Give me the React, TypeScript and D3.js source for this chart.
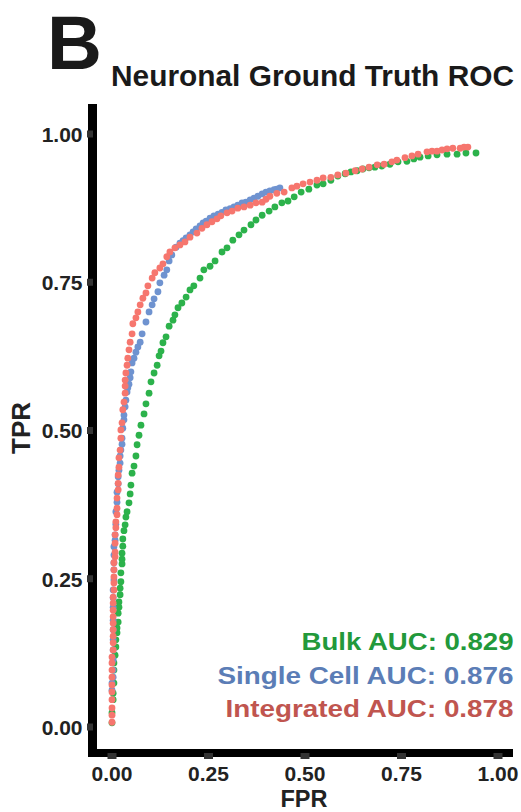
import React from "react";
import * as d3 from "d3";

const bulkFPR = [0,0,0.003,0.003,0.005,0.005,0.005,0.008,0.010,0.010,0.013,0.013,0.016,0.016,0.018,0.018,0.021,0.021,0.023,0.023,0.026,0.026,0.026,0.028,0.028,0.031,0.034,0.036,0.039,0.044,0.047,0.049,0.052,0.057,0.062,0.065,0.070,0.075,0.083,0.088,0.096,0.101,0.109,0.117,0.122,0.127,0.132,0.140,0.148,0.158,0.163,0.171,0.181,0.192,0.202,0.212,0.228,0.238,0.254,0.267,0.285,0.298,0.313,0.329,0.342,0.360,0.373,0.389,0.407,0.422,0.440,0.456,0.472,0.490,0.510,0.531,0.547,0.567,0.585,0.604,0.619,0.635,0.650,0.666,0.681,0.699,0.720,0.741,0.764,0.782,0.798,0.819,0.842,0.868,0.894,0.917,0.943];
const bulkTPR = [0.007,0.024,0.046,0.057,0.074,0.096,0.108,0.121,0.135,0.147,0.159,0.167,0.177,0.192,0.202,0.211,0.223,0.234,0.245,0.260,0.275,0.283,0.293,0.305,0.317,0.331,0.341,0.354,0.363,0.378,0.393,0.408,0.428,0.440,0.457,0.476,0.492,0.509,0.528,0.545,0.563,0.582,0.597,0.610,0.626,0.634,0.648,0.658,0.676,0.686,0.695,0.707,0.715,0.725,0.737,0.744,0.757,0.771,0.777,0.786,0.801,0.808,0.821,0.830,0.838,0.847,0.855,0.863,0.870,0.877,0.884,0.887,0.894,0.902,0.907,0.914,0.916,0.922,0.929,0.933,0.936,0.938,0.941,0.943,0.944,0.946,0.949,0.953,0.954,0.958,0.961,0.963,0.965,0.966,0.966,0.968,0.968];

const singleFPR = [0,0,0.003,0.003,0.003,0.003,0.003,0.003,0.003,0.003,0.003,0.003,0.005,0.005,0.005,0.005,0.005,0.008,0.008,0.010,0.010,0.013,0.013,0.016,0.016,0.018,0.021,0.021,0.023,0.026,0.026,0.028,0.031,0.031,0.034,0.036,0.039,0.041,0.044,0.047,0.049,0.052,0.057,0.062,0.067,0.073,0.078,0.088,0.096,0.104,0.109,0.119,0.124,0.135,0.142,0.148,0.155,0.166,0.176,0.184,0.192,0.202,0.210,0.218,0.228,0.236,0.244,0.254,0.264,0.275,0.285,0.295,0.306,0.316,0.326,0.337,0.347,0.358,0.368,0.378,0.389,0.399,0.409,0.420,0.427,0.435];
const singleTPR = [0.062,0.074,0.084,0.096,0.113,0.130,0.147,0.164,0.180,0.202,0.218,0.231,0.248,0.265,0.277,0.290,0.304,0.315,0.324,0.342,0.363,0.379,0.396,0.410,0.422,0.433,0.445,0.457,0.467,0.477,0.487,0.504,0.518,0.526,0.540,0.551,0.565,0.572,0.578,0.589,0.599,0.614,0.622,0.632,0.641,0.649,0.663,0.683,0.700,0.712,0.722,0.734,0.749,0.762,0.771,0.786,0.796,0.809,0.816,0.820,0.825,0.830,0.835,0.840,0.845,0.850,0.853,0.858,0.862,0.865,0.868,0.872,0.874,0.877,0.880,0.884,0.885,0.889,0.892,0.895,0.899,0.902,0.904,0.906,0.907,0.909];

const integratedFPR = [0,0,0,0,0,0,0,0,0,0,0.003,0.003,0.003,0.003,0.003,0.003,0.003,0.003,0.003,0.005,0.005,0.005,0.005,0.005,0.008,0.008,0.008,0.008,0.010,0.010,0.013,0.013,0.013,0.016,0.016,0.016,0.018,0.018,0.021,0.023,0.023,0.026,0.028,0.031,0.034,0.034,0.034,0.036,0.039,0.041,0.044,0.047,0.052,0.054,0.062,0.067,0.073,0.080,0.088,0.093,0.104,0.111,0.124,0.132,0.142,0.150,0.163,0.176,0.189,0.202,0.220,0.233,0.246,0.259,0.272,0.282,0.298,0.311,0.326,0.342,0.358,0.373,0.389,0.399,0.409,0.427,0.446,0.466,0.479,0.495,0.513,0.531,0.547,0.567,0.585,0.606,0.630,0.648,0.666,0.687,0.705,0.725,0.738,0.759,0.777,0.793,0.816,0.829,0.842,0.855,0.868,0.883,0.902,0.912,0.922];
const integratedTPR = [0.008,0.020,0.032,0.046,0.059,0.071,0.084,0.096,0.108,0.118,0.130,0.142,0.153,0.164,0.175,0.186,0.197,0.209,0.219,0.231,0.243,0.253,0.265,0.277,0.287,0.295,0.310,0.324,0.336,0.346,0.358,0.369,0.386,0.400,0.411,0.425,0.438,0.454,0.467,0.487,0.501,0.513,0.535,0.548,0.563,0.575,0.585,0.597,0.610,0.622,0.636,0.649,0.663,0.680,0.690,0.700,0.712,0.723,0.732,0.744,0.757,0.766,0.774,0.781,0.793,0.801,0.808,0.813,0.818,0.826,0.833,0.841,0.847,0.852,0.857,0.862,0.867,0.870,0.875,0.877,0.880,0.884,0.885,0.890,0.895,0.900,0.902,0.909,0.912,0.916,0.919,0.922,0.926,0.927,0.931,0.934,0.938,0.941,0.944,0.948,0.949,0.953,0.956,0.960,0.963,0.966,0.970,0.971,0.971,0.973,0.975,0.976,0.976,0.978,0.978];

const tickValues = [0, 0.25, 0.5, 0.75, 1];
const tickLabels = ["0.00", "0.25", "0.50", "0.75", "1.00"];
const legendLabels = ["Bulk AUC: 0.829", "Single Cell AUC: 0.876", "Integrated AUC: 0.878"];
const pointColors = ["#2cb24b", "#6f93d0", "#f6766e"];
const textColors = ["#22993b", "#5b7db6", "#c0554f"];

const W = 521, H = 812;
const FONT = "'Liberation Sans', Arial, sans-serif";

export default function App() {
  const x = d3.scaleLinear().domain([0, 1]).range([112, 498]);
  const y = d3.scaleLinear().domain([0, 1]).range([727, 134]);
  const series = [
    { fpr: bulkFPR, tpr: bulkTPR },
    { fpr: singleFPR, tpr: singleTPR },
    { fpr: integratedFPR, tpr: integratedTPR },
  ];
  const legendWidths = [212, 296, 288];
  return (
    <svg width={W} height={H} style={{ position: "absolute", left: 0, top: 0, background: "#fff" }} fontFamily={FONT}>
      <rect x={0} y={0} width={W} height={H} fill="#fff" />
      <text x={47} y={69} fontSize={76} fontWeight="bold" fill="#1a1a1a">B</text>
      <text x={514} y={86} fontSize={30} fontWeight="bold" fill="#1a1a1a" textAnchor="end" textLength={403} lengthAdjust="spacingAndGlyphs">Neuronal Ground Truth ROC</text>

      {/* axis lines */}
      <rect x={88} y={104} width={9} height={653} fill="#000" />
      <rect x={93} y={749} width={420} height={8} fill="#000" />
      {tickValues.map((v, i) => (
        <g key={"yt" + i}>
          <rect x={87} y={y(v) - 3.5} width={6} height={7} fill="#333" />
          <text x={82.5} y={y(v)} dy="0.37em" textAnchor="end" fontSize={21} fontWeight="bold" fill="#222">{tickLabels[i]}</text>
        </g>
      ))}
      {tickValues.map((v, i) => (
        <g key={"xt" + i}>
          <rect x={x(v) - 4.5} y={753} width={9} height={6} fill="#333" />
          <text x={x(v)} y={781} textAnchor="middle" fontSize={21} fontWeight="bold" fill="#222">{tickLabels[i]}</text>
        </g>
      ))}
      <text x={304} y={807} textAnchor="middle" fontSize={23.5} fontWeight="bold" fill="#222">FPR</text>
      <text transform="translate(29.5,428) rotate(-90)" textAnchor="middle" fontSize={26} fontWeight="bold" fill="#222">TPR</text>

      {series.map((s, si) => (
        <g key={"s" + si} fill={pointColors[si]}>
          {s.fpr.map((f, j) => (
            <circle key={j} cx={x(f)} cy={y(s.tpr[j])} r={3.4} />
          ))}
        </g>
      ))}

      {legendLabels.map((l, i) => (
        <text key={"lg" + i} x={513.5} y={650 + i * 33.5} textAnchor="end" fontSize={24} fontWeight="bold" fill={textColors[i]} textLength={legendWidths[i]} lengthAdjust="spacingAndGlyphs">{l}</text>
      ))}
    </svg>
  );
}
